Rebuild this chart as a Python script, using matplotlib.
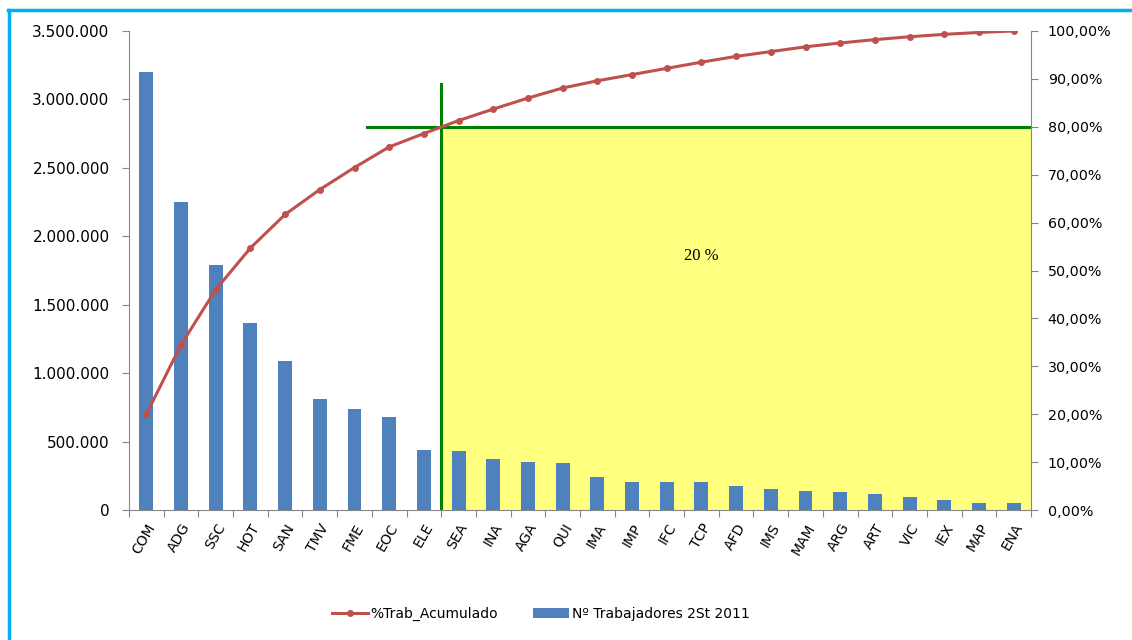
import matplotlib.pyplot as plt
from matplotlib.lines import Line2D
from matplotlib.ticker import FuncFormatter

# Pareto chart: workers per activity and the cumulative share.

categories = ['COM', 'ADG', 'SSC', 'HOT', 'SAN', 'TMV', 'FME', 'EOC', 'ELE',
              'SEA', 'INA', 'AGA', 'QUI', 'IMA', 'IMP', 'IFC', 'TCP', 'AFD',
              'IMS', 'MAM', 'ARG', 'ART', 'VIC', 'IEX', 'MAP', 'ENA']

trabajadores = [3200000, 2253000, 1790000, 1366000, 1089000, 811000, 736000,
                680000, 438000, 429000, 373000, 351000, 341000, 239000,
                207000, 207000, 207000, 173000, 151000, 141000, 129000,
                119000, 97000, 75000, 53000, 53000]

acumulado = [20.0, 34.5, 46.0, 54.7, 61.7, 66.9, 71.5, 75.8, 78.6, 81.3,
             83.7, 86.0, 88.1, 89.6, 90.9, 92.2, 93.5, 94.7, 95.7, 96.7,
             97.5, 98.2, 98.8, 99.3, 99.7, 100.0]

left_ticks = [0, 500000, 1000000, 1500000, 2000000, 2500000, 3000000, 3500000]
right_ticks = [0, 10, 20, 30, 40, 50, 60, 70, 80, 90, 100]

cut_pos = 8.5      # boundary between ELE and SEA
cut_pct = 80
label_20 = '20 %'

bar_color = '#4F81BD'
line_color = '#C0504D'
axis_grey = '#868686'
green = '#008000'

plt.rcParams['font.family'] = ['DejaVu Sans']

fig = plt.figure(figsize=(11.32, 6.40), dpi=100)
ax = fig.add_axes([129 / 1132, 130 / 640, 902 / 1132, 479 / 640])
ax2 = ax.twinx()

x = list(range(len(categories)))
n = len(categories)

# yellow area and green reference lines live on the percent axis
ax2.fill_between([cut_pos, n - 0.5], 0, cut_pct, color='#FFFF80', zorder=0, linewidth=0)
ax2.plot([cut_pos, cut_pos], [0, 89], color=green, linewidth=2.2, zorder=3)
ax2.plot([6.35, n - 0.5], [cut_pct, cut_pct], color=green, linewidth=2.2, zorder=3)
ax2.text(16, 53, label_20, family='Liberation Serif', fontsize=12, ha='center', va='center')

ax.set_zorder(ax2.get_zorder() + 1)
ax.patch.set_visible(False)

bars = ax.bar(x, trabajadores, width=0.4, color=bar_color, zorder=2,
              label='Nº Trabajadores 2St 2011')

ax.set_xlim(-0.5, n - 0.5)
ax.set_ylim(0, 3500000)
ax2.set_ylim(0, 100)

# the cumulative line sits on top of everything
ax3 = ax.twinx()
ax3.set_ylim(0, 100)
ax3.axis('off')
line, = ax3.plot(x, acumulado, color=line_color, linewidth=2.2, marker='o',
                 markersize=4, label='%Trab_Acumulado')

ax.set_yticks(left_ticks)
ax.yaxis.set_major_formatter(FuncFormatter(lambda v, p: '{:,.0f}'.format(v).replace(',', '.')))
ax2.set_yticks(right_ticks)
ax2.yaxis.set_major_formatter(FuncFormatter(lambda v, p: '{:.2f}%'.format(v).replace('.', ',')))

ax.set_xticks([i - 0.5 for i in range(n + 1)], minor=False)
ax.set_xticklabels([])
ax.set_xticks(x, minor=True)
ax.set_xticklabels(categories, minor=True, rotation=60, ha='right',
                   rotation_mode='anchor', fontsize=10)
ax.tick_params(axis='x', which='minor', length=0, pad=8)
ax.tick_params(axis='x', which='major', length=5, color=axis_grey)
ax.tick_params(axis='y', length=5, color=axis_grey, labelsize=11, pad=9)
ax2.tick_params(axis='y', length=5, color=axis_grey, labelsize=10.3, pad=7)

for a in (ax, ax2):
    a.spines['top'].set_visible(False)
    for s in ('left', 'right', 'bottom'):
        a.spines[s].set_color(axis_grey)
ax.spines['right'].set_visible(False)
ax2.spines['left'].set_visible(False)
ax2.spines['bottom'].set_visible(False)

fig.legend(handles=[line, bars], loc='center', bbox_to_anchor=(0.4775, 1 - 614 / 640),
           ncol=2, frameon=False, fontsize=10, handlelength=2.6, columnspacing=2.5,
           handletextpad=0.2)

# light blue frame (top and left edges are visible)
fig.add_artist(Line2D([7.5 / 1132, 1.0], [1 - 10 / 640, 1 - 10 / 640],
                      color='#00B0F0', linewidth=2.5, transform=fig.transFigure))
fig.add_artist(Line2D([8.5 / 1132, 8.5 / 1132], [0, 1 - 10 / 640],
                      color='#00B0F0', linewidth=2.5, transform=fig.transFigure))

plt.savefig('out.png', dpi=100)
